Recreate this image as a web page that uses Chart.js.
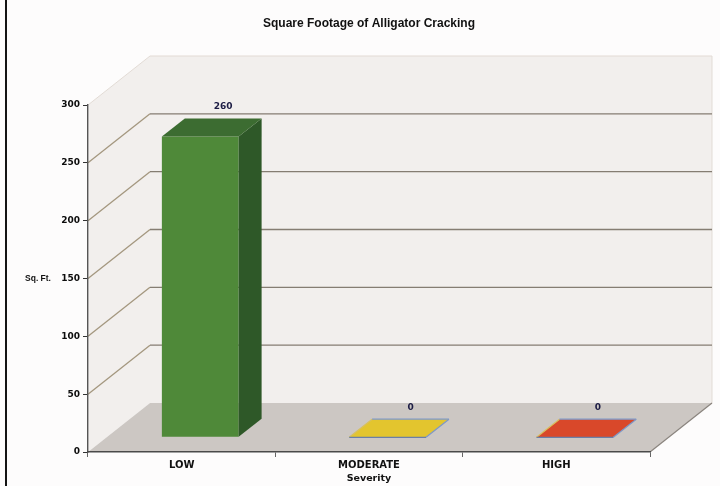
<!DOCTYPE html>
<html>
<head>
<meta charset="utf-8">
<title>Square Footage of Alligator Cracking</title>
<script src="https://cdn.jsdelivr.net/npm/chart.js@4/dist/chart.umd.min.js"></script>
<style>
  html, body { margin: 0; padding: 0; background: #fdfcfc; }
  #wrap { position: relative; width: 720px; height: 486px; }
  #wrap canvas { position: absolute; left: 0; top: 0; }
  #edge { position: absolute; left: 5px; top: 0; width: 2px; height: 486px; background: #141414; }
</style>
</head>
<body>
<div id="wrap">
  <canvas id="chart" width="720" height="486"></canvas>
  <div id="edge"></div>
</div>
<script>
// Data
const categories = ['LOW', 'MODERATE', 'HIGH'];
const sqFt = [260, 0, 0];
const yTickValues = [0, 50, 100, 150, 200, 250, 300];

// Face colours for each severity: front, side, top
const frontColors = ['#4f8939', '#e3c52e', '#d9482a'];
const sideColors  = ['#2e5828', '#b89a1e', '#a8341e'];
const topColors   = ['#3c6c31', '#e3c52e', '#d9482a'];

// Perspective depth of the plot box and where the bars sit inside it
const DEPTH_X = 62, DEPTH_Y = -49;
const BAR_FRONT = 0.3, BAR_BACK = 0.67;

function path(ctx, pts) {
  ctx.beginPath();
  ctx.moveTo(pts[0][0], pts[0][1]);
  for (let i = 1; i < pts.length; i++) ctx.lineTo(pts[i][0], pts[i][1]);
  ctx.closePath();
}
function line(ctx, x1, y1, x2, y2) {
  ctx.beginPath(); ctx.moveTo(x1, y1); ctx.lineTo(x2, y2); ctx.stroke();
}

const box3d = {
  id: 'box3d',
  // walls, floor and the receding gridlines
  beforeDraw(chart) {
    const { ctx, chartArea: a, scales: { y } } = chart;
    const dx = DEPTH_X, dy = DEPTH_Y;
    ctx.save();
    ctx.fillStyle = '#f2efed';
    path(ctx, [[a.left, a.top], [a.left + dx, a.top + dy], [a.left + dx, a.bottom + dy], [a.left, a.bottom]]);
    ctx.fill();
    path(ctx, [[a.left + dx, a.top + dy], [a.right + dx, a.top + dy], [a.right + dx, a.bottom + dy], [a.left + dx, a.bottom + dy]]);
    ctx.fill();
    ctx.fillStyle = '#ccc7c3';
    path(ctx, [[a.left, a.bottom], [a.left + dx, a.bottom + dy], [a.right + dx, a.bottom + dy], [a.right, a.bottom]]);
    ctx.fill();

    // faint outline of the box
    ctx.strokeStyle = '#e2dbd5';
    ctx.lineWidth = 1;
    line(ctx, a.left, a.top, a.left + dx, a.top + dy);
    line(ctx, a.left + dx, a.top + dy, a.right + dx, a.top + dy);
    line(ctx, a.right + dx, a.top + dy, a.right + dx, a.bottom + dy);

    ctx.lineWidth = 1.3;
    y.ticks.forEach(t => {
      if (t.value <= 0 || t.value >= y.max) return;
      const py = y.getPixelForValue(t.value);
      ctx.strokeStyle = '#a4977f';
      line(ctx, a.left, py, a.left + dx, py + dy);
      ctx.strokeStyle = '#857d72';
      line(ctx, a.left + dx, py + dy, a.right + dx, py + dy);
    });

    // right edge of the floor
    ctx.strokeStyle = '#8a847e';
    ctx.lineWidth = 1.2;
    line(ctx, a.right, a.bottom, a.right + dx, a.bottom + dy);
    ctx.restore();
  },
  // the library draws each bar's front face pushed into the box
  beforeDatasetsDraw(chart) {
    chart.ctx.save();
    chart.ctx.translate(DEPTH_X * BAR_FRONT, DEPTH_Y * BAR_FRONT);
  },
  afterDatasetsDraw(chart) {
    const { ctx } = chart;
    ctx.restore();
    const fx = DEPTH_X * BAR_FRONT, fy = DEPTH_Y * BAR_FRONT;
    const bx = DEPTH_X * BAR_BACK, by = DEPTH_Y * BAR_BACK;
    const meta = chart.getDatasetMeta(0);
    ctx.save();
    meta.data.forEach((bar, i) => {
      const p = bar.getProps(['x', 'y', 'base', 'width'], true);
      const l = p.x - p.width / 2, r = p.x + p.width / 2;
      const top = p.y, base = p.base;
      // side face
      if (base - top > 0.5) {
        ctx.fillStyle = sideColors[i];
        path(ctx, [[r + fx, top + fy], [r + bx, top + by], [r + bx, base + by], [r + fx, base + fy]]);
        ctx.fill();
      }
      // top face
      ctx.fillStyle = topColors[i];
      path(ctx, [[l + fx, top + fy], [l + bx, top + by], [r + bx, top + by], [r + fx, top + fy]]);
      ctx.fill();
      if (base - top <= 0.5) {
        ctx.lineWidth = 1.2;
        ctx.strokeStyle = '#d8c060';
        line(ctx, l + fx, top + fy, l + bx, top + by);
        ctx.strokeStyle = '#7d98c8';
        line(ctx, l + bx, top + by, r + bx, top + by);
        line(ctx, r + bx, top + by, r + fx, top + fy);
        ctx.strokeStyle = '#6a7fa8';
        line(ctx, l + fx, top + fy, r + fx, top + fy);
      }
      // value label above the back edge
      ctx.fillStyle = '#1c1c44';
      ctx.font = 'bold 9px "DejaVu Sans"';
      ctx.textAlign = 'center';
      ctx.textBaseline = 'middle';
      ctx.fillText(String(sqFt[i]), p.x + bx, top + by - 12);
    });
    ctx.restore();
  },
  // horizontal axis caption for the value axis
  afterDraw(chart) {
    const { ctx, chartArea: a } = chart;
    ctx.save();
    ctx.fillStyle = '#111';
    ctx.font = 'bold 8.5px "Liberation Sans"';
    ctx.textAlign = 'center';
    ctx.textBaseline = 'middle';
    ctx.fillText('Sq. Ft.', 38, (a.top + a.bottom) / 2);
    ctx.restore();
  }
};

Chart.defaults.font.family = '"DejaVu Sans"';
Chart.defaults.color = '#111';

new Chart(document.getElementById('chart'), {
  type: 'bar',
  data: {
    labels: categories,
    datasets: [{
      data: sqFt,
      backgroundColor: frontColors,
      borderWidth: 0,
      barPercentage: 0.41,
      categoryPercentage: 1.0,
      clip: false
    }]
  },
  options: {
    responsive: false,
    animation: false,
    events: [],
    layout: { padding: { left: 0, right: 70, top: 0, bottom: 0 } },
    plugins: {
      legend: { display: false },
      tooltip: { enabled: false },
      title: {
        display: true,
        fullSize: false,
        text: 'Square Footage of Alligator Cracking',
        color: '#111',
        font: { family: '"Liberation Sans"', size: 12, weight: 'bold' },
        padding: { top: 16, bottom: 74.6 }
      }
    },
    scales: {
      y: {
        min: 0,
        max: 300,
        afterFit: s => { s.width = 88; },
        afterBuildTicks: s => { s.ticks = yTickValues.map(v => ({ value: v })); },
        ticks: { font: { size: 9, weight: '600' }, color: '#0c0c0c', padding: 3 },
        grid: { drawOnChartArea: false, drawTicks: true, tickLength: 5, color: '#333', lineWidth: 1 },
        border: { display: true, color: '#555', width: 1.4 }
      },
      x: {
        afterFit: s => { s.height = 34; },
        ticks: { font: { size: 10, weight: 'bold' }, color: '#111', padding: 2 },
        grid: { drawOnChartArea: false, drawTicks: true, tickLength: 5, color: '#666', offset: true },
        border: { display: true, color: '#4a4a4a', width: 1.5 },
        title: {
          display: true,
          text: 'Severity',
          font: { size: 9.5, weight: 'bold' },
          color: '#111',
          padding: { top: 0, bottom: 2 }
        }
      }
    }
  },
  plugins: [box3d]
});
</script>
</body>
</html>
